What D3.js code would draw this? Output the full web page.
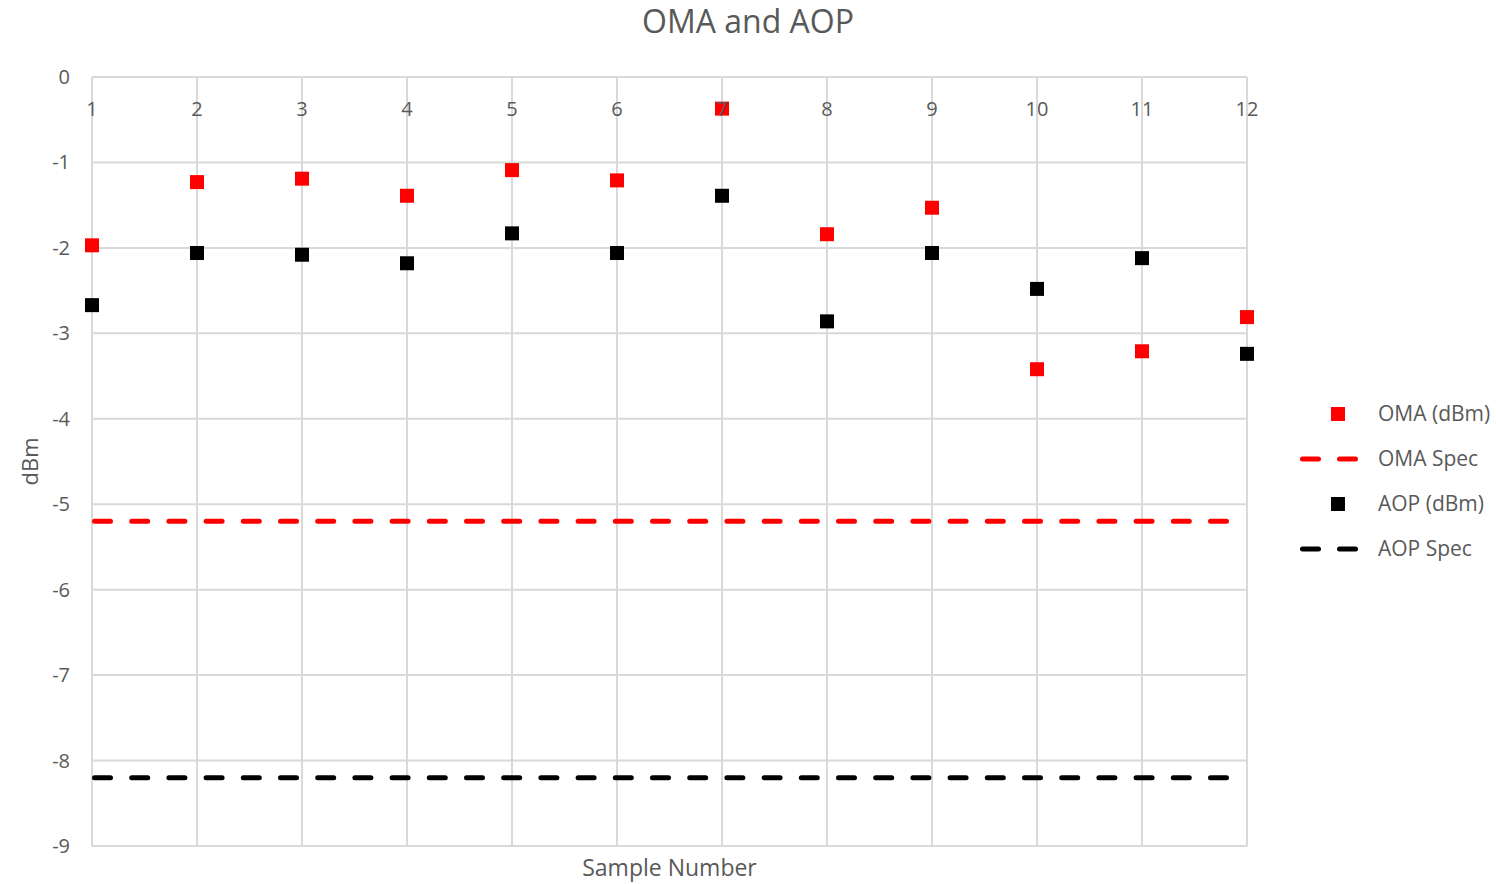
<!DOCTYPE html>
<html lang="en">
<head>
<meta charset="UTF-8">
<title>OMA and AOP</title>
<script src="https://cdn.jsdelivr.net/npm/d3@7/dist/d3.min.js"></script>
<style>
    body { margin: 0; background: #ffffff; }
    .txt { font-family: 'Open Sans', sans-serif; fill: #595959; }
    .grid line { stroke: #d9d9d9; stroke-width: 2; }
</style>
</head>
<body>
<div id="grafico"></div>
<script>
// datos
var samples = [1, 2, 3, 4, 5, 6, 7, 8, 9, 10, 11, 12];
var oma = [-1.97, -1.23, -1.19, -1.39, -1.09, -1.21, -0.37, -1.84, -1.53, -3.42, -3.21, -2.81];
var aop = [-2.67, -2.06, -2.08, -2.18, -1.83, -2.06, -1.39, -2.86, -2.06, -2.48, -2.12, -3.24];
var omaSpec = -5.2;
var aopSpec = -8.2;
var yTicks = [0, -1, -2, -3, -4, -5, -6, -7, -8, -9];
var legendItems = [
    { name: "OMA (dBm)", type: "square", color: "#ff0000" },
    { name: "OMA Spec", type: "dash", color: "#ff0000" },
    { name: "AOP (dBm)", type: "square", color: "#000000" },
    { name: "AOP Spec", type: "dash", color: "#000000" }
];

var w = 1496, h = 884;
var pLeft = 92, pRight = 1247, pTop = 77, pBottom = 846;

var svg = d3.select("#grafico").append("svg")
    .attr("width", w)
    .attr("height", h);

var xScale = d3.scaleLinear().domain([1, 12]).range([pLeft, pRight]);
var yScale = d3.scaleLinear().domain([-9, 0]).range([pBottom, pTop]);

// rejilla
var grid = svg.append("g").attr("class", "grid");
grid.selectAll(".h").data(yTicks).enter().append("line")
    .attr("x1", pLeft).attr("x2", pRight)
    .attr("y1", function(d){ return yScale(d); })
    .attr("y2", function(d){ return yScale(d); });
grid.selectAll(".v").data(samples).enter().append("line")
    .attr("y1", pTop).attr("y2", pBottom)
    .attr("x1", function(d){ return xScale(d); })
    .attr("x2", function(d){ return xScale(d); });

// etiquetas eje Y
svg.append("g").selectAll("text").data(yTicks).enter().append("text")
    .attr("class", "txt")
    .attr("x", 70)
    .attr("y", function(d){ return yScale(d); })
    .attr("dy", "0.35em")
    .attr("text-anchor", "end")
    .style("font-size", "20px")
    .text(function(d){ return d === 0 ? "0" : "-" + Math.abs(d); });

// lineas de especificacion
function specLine(val, color){
    svg.append("line")
        .attr("x1", xScale(1) + 2.5).attr("x2", xScale(12))
        .attr("y1", yScale(val)).attr("y2", yScale(val))
        .attr("stroke", color)
        .attr("stroke-width", 5)
        .attr("stroke-linecap", "round")
        .attr("stroke-dasharray", "16,21.2");
}
specLine(omaSpec, "#ff0000");
specLine(aopSpec, "#000000");

// marcadores
var ms = 14;
function markers(data, color){
    svg.append("g").selectAll("rect").data(data).enter().append("rect")
        .attr("x", function(d, i){ return xScale(samples[i]) - ms / 2; })
        .attr("y", function(d){ return yScale(d) - ms / 2; })
        .attr("width", ms).attr("height", ms)
        .attr("fill", color);
}
markers(oma, "#ff0000");
markers(aop, "#000000");

// etiquetas eje X (debajo de la linea del 0, por encima de los marcadores)
svg.append("g").selectAll("text").data(samples).enter().append("text")
    .attr("class", "txt")
    .attr("x", function(d){ return xScale(d); })
    .attr("y", yScale(0) + 32)
    .attr("dy", "0.35em")
    .attr("text-anchor", "middle")
    .style("font-size", "20px")
    .text(function(d){ return d; });

// titulos
svg.append("text").attr("class", "txt")
    .attr("x", 748).attr("y", 22).attr("dy", "0.35em")
    .attr("text-anchor", "middle")
    .style("font-size", "32px")
    .text("OMA and AOP");

svg.append("text").attr("class", "txt")
    .attr("x", (pLeft + pRight) / 2).attr("y", 868).attr("dy", "0.35em")
    .attr("text-anchor", "middle")
    .style("font-size", "23px")
    .text("Sample Number");

svg.append("text").attr("class", "txt")
    .attr("transform", "translate(30," + ((pTop + pBottom) / 2) + ") rotate(-90)")
    .attr("dy", "0.35em")
    .attr("text-anchor", "middle")
    .style("font-size", "22px")
    .text("dBm");

// leyenda
var leg = svg.append("g").selectAll("g").data(legendItems).enter().append("g")
    .attr("transform", function(d, i){ return "translate(0," + (414 + i * 45) + ")"; });
leg.filter(function(d){ return d.type === "square"; }).append("rect")
    .attr("x", 1338 - 7).attr("y", -7).attr("width", 14).attr("height", 14)
    .attr("fill", function(d){ return d.color; });
leg.filter(function(d){ return d.type === "dash"; }).append("line")
    .attr("x1", 1302.5).attr("x2", 1358).attr("y1", 0).attr("y2", 0)
    .attr("stroke", function(d){ return d.color; })
    .attr("stroke-width", 5)
    .attr("stroke-linecap", "round")
    .attr("stroke-dasharray", "16,21");
leg.append("text").attr("class", "txt")
    .attr("x", 1378).attr("y", 0).attr("dy", "0.35em")
    .style("font-size", "21px")
    .text(function(d){ return d.name; });
</script>
</body>
</html>
